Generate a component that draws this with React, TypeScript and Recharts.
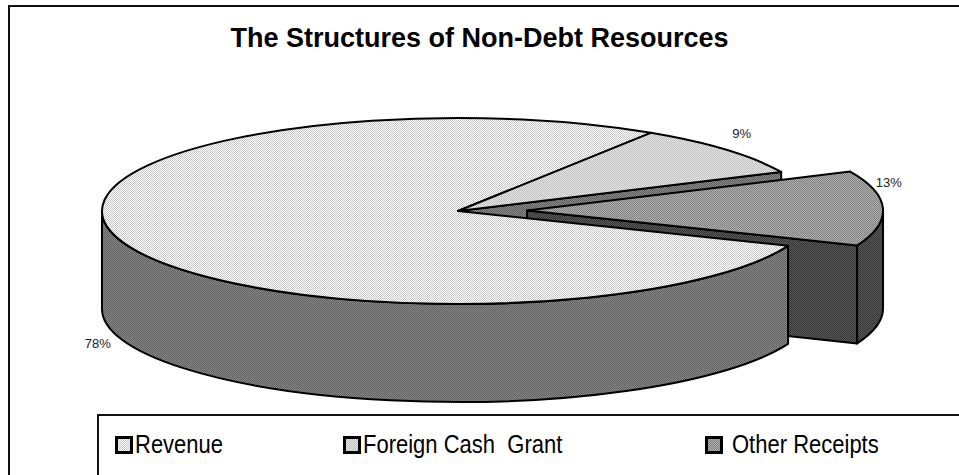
import React from 'react';
import { PieChart, Pie, Legend } from 'recharts';

const categories = ['Revenue', 'Foreign Cash  Grant', 'Other Receipts'];
const shares = [78, 9, 13];
const explode = [0, 0, 0.194];

const data = categories.map((name, i) => ({ name, value: shares[i] }));

// 3d look
const CX = 458;
const CY = 211;
const RX = 356;
const TILT = 93 / 356;
const DEPTH = 98;

const topPat = ['revTop', 'forTop', 'othTop'];
const sidePat = ['revSide', 'forSide', 'othSide'];

const FONT = '"Liberation Sans", Arial, sans-serif';

const rad = (d: number) => (d * Math.PI) / 180;

const Checker = ({ id, a, b }: { id: string; a: string; b: string }) => (
  <pattern id={id} width={2} height={2} patternUnits="userSpaceOnUse">
    <rect width={2} height={2} fill={a} />
    <rect width={1} height={1} fill={b} />
    <rect x={1} y={1} width={1} height={1} fill={b} />
  </pattern>
);

const geom = (p: any) => {
  const lo = Math.min(p.startAngle, p.endAngle);
  const hi = Math.max(p.startAngle, p.endAngle);
  const rx = p.outerRadius;
  const ry = rx * TILT;
  const e = explode[p.index] || 0;
  const m = p.midAngle;
  const cx = p.cx + e * rx * Math.cos(rad(m));
  const cy = p.cy - e * ry * Math.sin(rad(m));
  const at = (deg: number, d = 0) => [cx + rx * Math.cos(rad(deg)), cy - ry * Math.sin(rad(deg)) + d];
  return { lo, hi, rx, ry, cx, cy, at, m };
};

const edge = { stroke: '#000', strokeWidth: 2, strokeLinejoin: 'round' as const };

// cut faces that show through the gap of an exploded slice
const renderCuts = (p: any) => {
  const g = geom(p);
  const n = shares.length;
  const i = p.index;
  const loOpen = explode[i] > 0 || explode[(i + 1) % n] > 0;
  const hiOpen = explode[i] > 0 || explode[(i + n - 1) % n] > 0;
  const faces: number[] = [];
  if (loOpen && Math.sin(rad(g.lo - 90)) < 0) faces.push(g.lo);
  if (hiOpen && Math.sin(rad(g.hi + 90)) < 0) faces.push(g.hi);
  return (
    <g key={`cut-${i}`}>
      {faces.map((a) => {
        const [x, y] = g.at(a);
        return (
          <path
            key={a}
            d={`M${g.cx},${g.cy}L${x},${y}L${x},${y + DEPTH}L${g.cx},${g.cy + DEPTH}Z`}
            fill={`url(#${sidePat[i]})`}
            {...edge}
          />
        );
      })}
    </g>
  );
};

const renderSides = (p: any) => {
  const g = geom(p);
  const segs: number[][] = [];
  for (const k of [-1, 0, 1]) {
    const s = Math.max(g.lo, 180 + 360 * k);
    const t = Math.min(g.hi, 360 + 360 * k);
    if (t > s) segs.push([s, t]);
  }
  return (
    <g key={`side-${p.index}`}>
      {segs.map(([s, t]) => {
        const [x1, y1] = g.at(s);
        const [x2, y2] = g.at(t);
        const big = t - s > 180 ? 1 : 0;
        return (
          <path
            key={s}
            d={`M${x1},${y1}A${g.rx},${g.ry} 0 ${big} 0 ${x2},${y2}L${x2},${y2 + DEPTH}A${g.rx},${g.ry} 0 ${big} 1 ${x1},${y1 + DEPTH}Z`}
            fill={`url(#${sidePat[p.index]})`}
            {...edge}
          />
        );
      })}
    </g>
  );
};

const renderTops = (p: any) => {
  const g = geom(p);
  const [x1, y1] = g.at(g.lo);
  const [x2, y2] = g.at(g.hi);
  const big = g.hi - g.lo > 180 ? 1 : 0;
  const s = Math.sin(rad(g.m));
  const c = Math.cos(rad(g.m));
  const [ax, ay] = g.at(g.m, s < -0.2 ? DEPTH : 0);
  // labels sit a little outside the rim, the one at 3 o'clock is lifted
  const w = Math.max(0, c) * (1 - Math.abs(s)) ** 2;
  const lx = ax + 22 * c - 17 * w;
  const ly = ay - 22 * s - 27 * w;
  return (
    <g key={`top-${p.index}`}>
      <path
        d={`M${g.cx},${g.cy}L${x1},${y1}A${g.rx},${g.ry} 0 ${big} 0 ${x2},${y2}Z`}
        fill={`url(#${topPat[p.index]})`}
        {...edge}
      />
      <text x={lx} y={ly} textAnchor="middle" dominantBaseline="central" fontFamily={FONT} fontSize={13} fill="#222">
        {`${Math.round(p.percent * 100)}%`}
      </text>
    </g>
  );
};

const LegendContent = (props: any) => {
  const seen: string[] = [];
  (props.payload || []).forEach((e: any) => {
    const v = String(e.value);
    if (categories.includes(v) && !seen.includes(v)) seen.push(v);
  });
  const items = categories.filter((c) => seen.length === 0 || seen.includes(c));
  const slots = [16, 244, 606];
  return (
    <div style={{ position: 'relative', height: '100%', fontFamily: FONT, fontSize: 22, color: '#000' }}>
      {items.map((name: string) => {
        const i = categories.indexOf(name);
        return (
          <div
            key={name}
            style={{ position: 'absolute', left: slots[i], top: 17, display: 'flex', alignItems: 'center', height: 24 }}
          >
            <svg width={18} height={18} style={{ display: 'block' }}>
              <rect x={1.5} y={1.5} width={15} height={15} fill={`url(#${topPat[i]})`} stroke="#000" strokeWidth={3} />
            </svg>
            <span
              style={{
                whiteSpace: 'pre',
                marginLeft: i === 2 ? 9 : 2,
                display: 'inline-block',
                transform: 'scaleY(1.15)',
              }}
            >
              {name}
            </span>
          </div>
        );
      })}
    </div>
  );
};

const App: React.FC = () => {
  const common = {
    data,
    dataKey: 'value',
    nameKey: 'name',
    cx: CX,
    cy: CY,
    outerRadius: RX,
    startAngle: 338,
    endAngle: -22,
    fill: 'none',
    stroke: 'none',
    labelLine: false,
    isAnimationActive: false,
  };
  return (
    <div style={{ position: 'absolute', left: 0, top: 0, width: 959, height: 475, background: '#fff', overflow: 'hidden' }}>
      <svg width={0} height={0} style={{ position: 'absolute' }}>
        <defs>
          <Checker id="revTop" a="#ffffff" b="#c6c6c6" />
          <Checker id="forTop" a="#e6e6e6" b="#c0c0c0" />
          <Checker id="othTop" a="#b2b2b2" b="#7e7e7e" />
          <Checker id="revSide" a="#8a8a8a" b="#5e5e5e" />
          <Checker id="forSide" a="#8a8a8a" b="#5e5e5e" />
          <Checker id="othSide" a="#565656" b="#383838" />
        </defs>
      </svg>
      <div style={{ position: 'absolute', left: 8, top: 5, width: 1000, height: 1000, borderTop: '2px solid #111', borderLeft: '2px solid #111' }} />
      <div
        style={{
          position: 'absolute',
          left: 0,
          width: 959,
          top: 23,
          textAlign: 'center',
          fontFamily: FONT,
          fontWeight: 'bold',
          fontSize: 27,
          color: '#000',
        }}
      >
        The Structures of Non-Debt Resources
      </div>
      <div style={{ position: 'absolute', left: 0, top: 0 }}>
        <PieChart width={959} height={475} margin={{ top: 0, right: 0, bottom: 0, left: 0 }}>
          <Pie {...common} label={renderCuts} legendType="none" />
          <Pie {...common} label={renderSides} legendType="none" />
          <Pie {...common} label={renderTops} legendType="rect" />
          <Legend
            content={LegendContent}
            wrapperStyle={{
              left: 97,
              top: 414,
              bottom: 'auto',
              width: 870,
              height: 70,
              borderTop: '2px solid #111',
              borderLeft: '2px solid #111',
              boxSizing: 'border-box',
            }}
          />
        </PieChart>
      </div>
    </div>
  );
};

export default App;
